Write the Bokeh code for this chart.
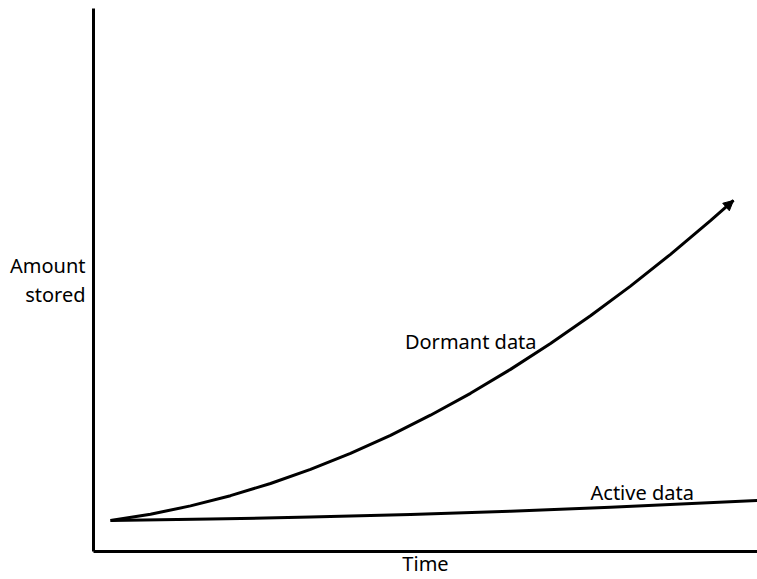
from bokeh.plotting import figure
from bokeh.models import Range1d, FixedTicker, Label, Arrow, NormalHead
from bokeh.embed import file_html
from bokeh.resources import INLINE

# Conceptual data (time vs. amount stored)
dormant_time = [2.56, 8.58, 14.61, 20.63, 26.66, 32.68, 38.70, 44.73, 50.75,
                56.78, 62.80, 68.83, 74.85, 80.87, 86.90, 92.92, 96.39]
dormant_amount = [5.71, 6.87, 8.40, 10.28, 12.52, 15.12, 18.08, 21.40, 25.10,
                  29.13, 33.54, 38.29, 43.41, 48.88, 54.73, 60.92, 64.66]
active_time = [2.56, 17.62, 32.68, 47.74, 62.80, 77.86, 100.0]
active_amount = [5.71, 5.97, 6.34, 6.81, 7.42, 8.14, 9.39]

x_title = "Time"
y_title = "Amount\nstored"

FONT = "Noto Sans"
FS = "20px"

p = figure(width=757, height=579, output_backend="svg", toolbar_location=None,
           x_range=Range1d(0, 100), y_range=Range1d(0, 100),
           min_border_left=93, min_border_right=0, min_border_top=8, min_border_bottom=28)
p.grid.visible = False
p.outline_line_color = None
p.background_fill_color = "white"
p.border_fill_color = "white"

for ax in (p.xaxis[0], p.yaxis[0]):
    ax.ticker = FixedTicker(ticks=[])
    ax.major_label_text_font_size = "0px"
    ax.major_tick_in = 0
    ax.major_tick_out = 0
    ax.minor_tick_in = 0
    ax.minor_tick_out = 0
    ax.axis_line_width = 3
    ax.axis_line_color = "black"
    ax.major_label_standoff = 0
    ax.axis_label_text_font = FONT
    ax.axis_label_text_font_size = FS
    ax.axis_label_text_font_style = "normal"
    ax.axis_label_text_color = "black"

p.xaxis[0].axis_label = x_title
p.xaxis[0].axis_label_standoff = -2
p.yaxis[0].axis_label = y_title
p.yaxis[0].axis_label_orientation = "horizontal"
p.yaxis[0].axis_label_text_align = "right"
p.yaxis[0].axis_label_text_line_height = 1.05
p.yaxis[0].axis_label_standoff = 8

p.line(dormant_time, dormant_amount, line_width=3, line_color="black", line_join="round")
p.line(active_time, active_amount, line_width=3, line_color="black", line_join="round")

p.add_layout(Arrow(end=NormalHead(size=10, fill_color="black", line_color="black"),
                   x_start=dormant_time[-2], y_start=dormant_amount[-2],
                   x_end=dormant_time[-1], y_end=dormant_amount[-1],
                   line_width=0, line_alpha=0))

def lab(x, y, t, align="left"):
    p.add_layout(Label(x=x, y=y, text=t, text_font=FONT, text_font_size=FS,
                       text_align=align, text_baseline="middle", text_color="black"))

lab(46.9, 38.6, "Dormant data")
lab(74.85, 10.9, "Active data")

open("out.html", "w").write(file_html(p, INLINE))
